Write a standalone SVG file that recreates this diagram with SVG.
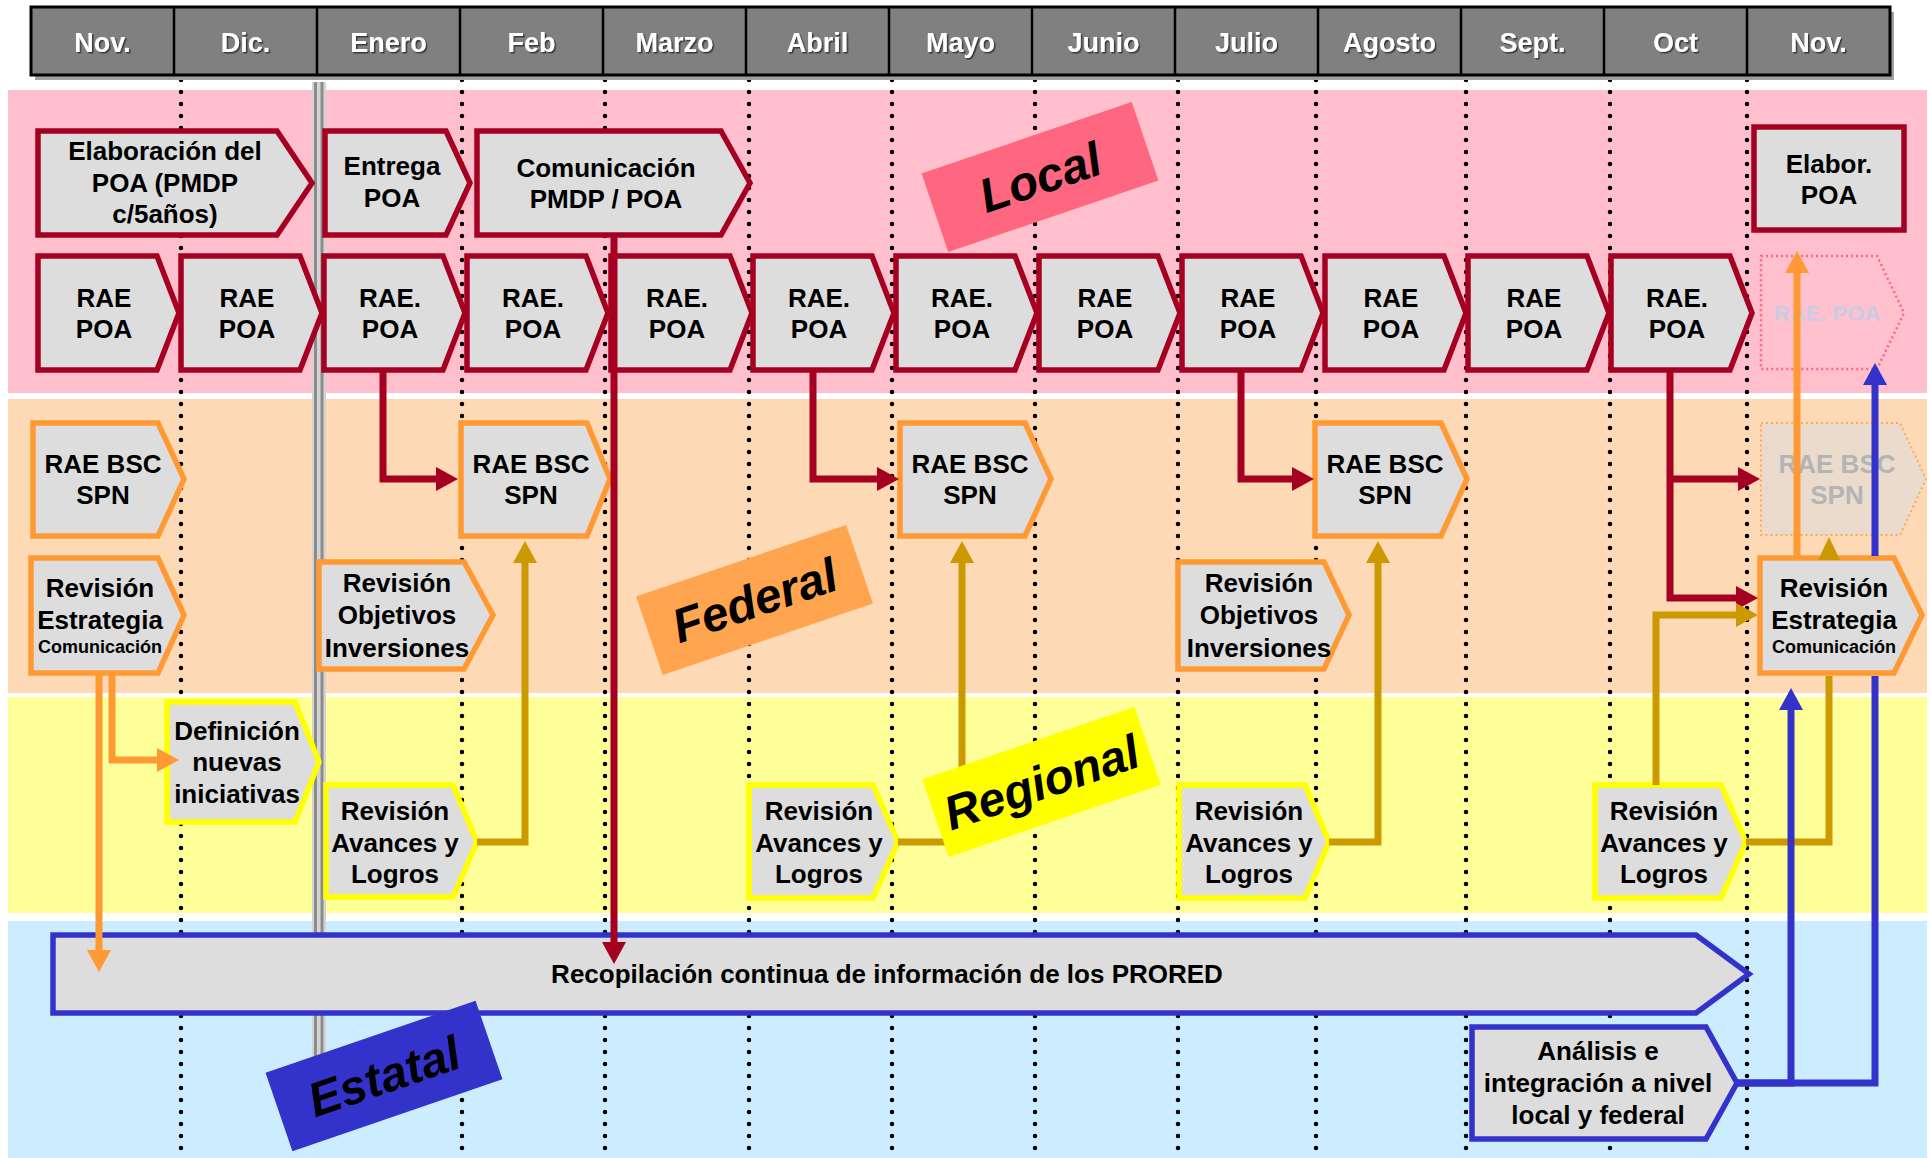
<svg xmlns="http://www.w3.org/2000/svg" width="1931" height="1158" viewBox="0 0 1931 1158">
<style>
  text { font-family: "Liberation Sans", Arial, sans-serif; font-weight: bold; text-anchor: middle; }
  .t { font-size: 26px; fill: #000; }
  .sm { font-size: 18px; }
  .hdr { font-size: 27px; fill: #fff; filter: url(#tshadow); }
  .lbl { font-size: 48px; font-style: italic; fill: #000; }
  .box { fill: #DDDDDD; stroke-width: 5.5; stroke-linejoin: miter; }
  .red { stroke: #A50021; }
  .org { stroke: #FF9933; }
  .yel { stroke: #FFFF00; }
  .blu { stroke: #3333CC; }
  .dots { stroke: #000; stroke-width: 4.5; stroke-linecap: round; stroke-dasharray: 0 12; fill: none; }
  .c { fill: none; stroke-width: 7; stroke-linejoin: miter; }
  .cr { stroke: #A50021; }
  .cg { stroke: #CC9900; }
  .co { stroke: #FF9933; }
  .cb { stroke: #3333CC; }
  .fadedpoa { font-size: 22px; fill: #C8CCE4; }
  .fadedbsc { fill: #B4B4B4; }
</style>
<defs>
  <filter id="tshadow" x="-20%" y="-20%" width="140%" height="140%">
    <feDropShadow dx="1.5" dy="1.5" stdDeviation="0.4" flood-color="#303030" flood-opacity="0.9"/>
  </filter>
  <marker id="aR" viewBox="0 0 22 24" refX="1" refY="12" markerWidth="22" markerHeight="24" markerUnits="userSpaceOnUse" orient="auto"><path d="M0,0 L22,12 L0,24 Z" fill="#A50021"/></marker>
  <marker id="aG" viewBox="0 0 22 24" refX="1" refY="12" markerWidth="22" markerHeight="24" markerUnits="userSpaceOnUse" orient="auto"><path d="M0,0 L22,12 L0,24 Z" fill="#CC9900"/></marker>
  <marker id="aO" viewBox="0 0 22 24" refX="1" refY="12" markerWidth="22" markerHeight="24" markerUnits="userSpaceOnUse" orient="auto"><path d="M0,0 L22,12 L0,24 Z" fill="#FF9933"/></marker>
  <marker id="aB" viewBox="0 0 22 24" refX="1" refY="12" markerWidth="22" markerHeight="24" markerUnits="userSpaceOnUse" orient="auto"><path d="M0,0 L22,12 L0,24 Z" fill="#3333CC"/></marker>
</defs>

<rect width="1931" height="1158" fill="#FFFFFF"/>

<g id="bands">
  <rect x="8" y="90" width="1919" height="303" fill="#FFBFCC"/>
  <rect x="8" y="399" width="1919" height="294" fill="#FDD9B5"/>
  <rect x="8" y="697" width="1919" height="216" fill="#FFFF99"/>
  <rect x="8" y="921" width="1919" height="237" fill="#CCECFF"/>
</g>

<g id="gridlines">
  <path class="dots" d="M181,80 V1158 M462,80 V1158 M605,80 V1158 M749,80 V1158 M892,80 V1158 M1035,80 V1158 M1178,80 V1158 M1316,80 V1158 M1466,80 V1158 M1610,80 V1158 M1747,80 V1158"/>
  <rect x="312" y="82" width="14" height="975" fill="#D4D4D4"/>
  <line x1="315.5" y1="82" x2="315.5" y2="1057" stroke="#8C8C8C" stroke-width="3"/>
  <line x1="322" y1="82" x2="322" y2="1057" stroke="#8C8C8C" stroke-width="3"/>
</g>

<g id="header">
  <rect x="35" y="12" width="1859" height="68" fill="#A0A0A0"/>
  <rect x="31" y="7" width="1859" height="68" fill="#808080" stroke="#000" stroke-width="3"/>
  <path d="M174,7 V75 M317,7 V75 M460,7 V75 M603,7 V75 M746,7 V75 M889,7 V75 M1032,7 V75 M1175,7 V75 M1318,7 V75 M1461,7 V75 M1604,7 V75 M1747,7 V75" stroke="#000" stroke-width="2.5"/>
  <text class="hdr" x="102.5" y="52">Nov.</text>
  <text class="hdr" x="245.5" y="52">Dic.</text>
  <text class="hdr" x="388.5" y="52">Enero</text>
  <text class="hdr" x="531.5" y="52">Feb</text>
  <text class="hdr" x="674.5" y="52">Marzo</text>
  <text class="hdr" x="817.5" y="52">Abril</text>
  <text class="hdr" x="960.5" y="52">Mayo</text>
  <text class="hdr" x="1103.5" y="52">Junio</text>
  <text class="hdr" x="1246.5" y="52">Julio</text>
  <text class="hdr" x="1389.5" y="52">Agosto</text>
  <text class="hdr" x="1532.5" y="52">Sept.</text>
  <text class="hdr" x="1675.5" y="52">Oct</text>
  <text class="hdr" x="1818.5" y="52">Nov.</text>
</g>

<!-- Local level -->
<g id="n-elaboracion">
  <path class="box red" d="M38,131 H277 L312,183 L277,235 H38 Z"/>
  <text class="t" x="165" y="160">Elaboración del</text>
  <text class="t" x="165" y="192">POA (PMDP</text>
  <text class="t" x="165" y="223">c/5años)</text>
</g>
<g id="n-entrega">
  <path class="box red" d="M325,131 H446 L470,183 L446,235 H325 Z"/>
  <text class="t" x="392" y="175">Entrega</text>
  <text class="t" x="392" y="207">POA</text>
</g>
<g id="n-comunicacion">
  <path class="box red" d="M477,131 H721 L750,183 L721,235 H477 Z"/>
  <text class="t" x="606" y="177">Comunicación</text>
  <text class="t" x="606" y="208">PMDP / POA</text>
</g>
<g id="n-elabor-poa">
  <rect class="box red" x="1754" y="127" width="150" height="103"/>
  <text class="t" x="1829" y="173">Elabor.</text>
  <text class="t" x="1829" y="204">POA</text>
</g>

<g id="n-rae-nov">
  <path class="box red" d="M38,256 H157 L179,313 L157,370 H38 Z"/>
  <text class="t" x="104" y="307">RAE</text><text class="t" x="104" y="338">POA</text>
</g>
<g id="n-rae-dic">
  <path class="box red" d="M181,256 H300 L322,313 L300,370 H181 Z"/>
  <text class="t" x="247" y="307">RAE</text><text class="t" x="247" y="338">POA</text>
</g>
<g id="n-rae-ene">
  <path class="box red" d="M324,256 H443 L465,313 L443,370 H324 Z"/>
  <text class="t" x="390" y="307">RAE.</text><text class="t" x="390" y="338">POA</text>
</g>
<g id="n-rae-feb">
  <path class="box red" d="M467,256 H586 L608,313 L586,370 H467 Z"/>
  <text class="t" x="533" y="307">RAE.</text><text class="t" x="533" y="338">POA</text>
</g>
<g id="n-rae-mar">
  <path class="box red" d="M611,256 H730 L752,313 L730,370 H611 Z"/>
  <text class="t" x="677" y="307">RAE.</text><text class="t" x="677" y="338">POA</text>
</g>
<g id="n-rae-abr">
  <path class="box red" d="M753,256 H872 L894,313 L872,370 H753 Z"/>
  <text class="t" x="819" y="307">RAE.</text><text class="t" x="819" y="338">POA</text>
</g>
<g id="n-rae-may">
  <path class="box red" d="M896,256 H1015 L1037,313 L1015,370 H896 Z"/>
  <text class="t" x="962" y="307">RAE.</text><text class="t" x="962" y="338">POA</text>
</g>
<g id="n-rae-jun">
  <path class="box red" d="M1039,256 H1158 L1180,313 L1158,370 H1039 Z"/>
  <text class="t" x="1105" y="307">RAE</text><text class="t" x="1105" y="338">POA</text>
</g>
<g id="n-rae-jul">
  <path class="box red" d="M1182,256 H1301 L1323,313 L1301,370 H1182 Z"/>
  <text class="t" x="1248" y="307">RAE</text><text class="t" x="1248" y="338">POA</text>
</g>
<g id="n-rae-ago">
  <path class="box red" d="M1325,256 H1444 L1466,313 L1444,370 H1325 Z"/>
  <text class="t" x="1391" y="307">RAE</text><text class="t" x="1391" y="338">POA</text>
</g>
<g id="n-rae-sep">
  <path class="box red" d="M1468,256 H1587 L1609,313 L1587,370 H1468 Z"/>
  <text class="t" x="1534" y="307">RAE</text><text class="t" x="1534" y="338">POA</text>
</g>
<g id="n-rae-oct">
  <path class="box red" d="M1611,256 H1730 L1752,313 L1730,370 H1611 Z"/>
  <text class="t" x="1677" y="307">RAE.</text><text class="t" x="1677" y="338">POA</text>
</g>
<g id="n-rae-nov2">
  <path d="M1761,256 H1877 L1904,313 L1877,369 H1761 Z" fill="#FFC4D0" fill-opacity="0.5" stroke="#FF6680" stroke-width="2.5" stroke-dasharray="2 3"/>
  <text class="fadedpoa" x="1827" y="321">RAE. POA</text>
</g>

<!-- Federal level -->
<g id="n-bsc-nov">
  <path class="box org" d="M33,423 H158 L184,479 L158,536 H33 Z"/>
  <text class="t" x="103" y="473">RAE BSC</text><text class="t" x="103" y="504">SPN</text>
</g>
<g id="n-bsc-feb">
  <path class="box org" d="M461,423 H587 L610,479 L587,536 H461 Z"/>
  <text class="t" x="531" y="473">RAE BSC</text><text class="t" x="531" y="504">SPN</text>
</g>
<g id="n-bsc-may">
  <path class="box org" d="M900,423 H1025 L1051,479 L1025,536 H900 Z"/>
  <text class="t" x="970" y="473">RAE BSC</text><text class="t" x="970" y="504">SPN</text>
</g>
<g id="n-bsc-ago">
  <path class="box org" d="M1315,423 H1441 L1467,479 L1441,536 H1315 Z"/>
  <text class="t" x="1385" y="473">RAE BSC</text><text class="t" x="1385" y="504">SPN</text>
</g>
<g id="n-bsc-nov2">
  <path d="M1761,423 H1900 L1926,479 L1900,535 H1761 Z" fill="#E2DCD6" fill-opacity="0.7" stroke="#FFAA55" stroke-width="2" stroke-dasharray="2 3"/>
  <text class="t fadedbsc" x="1837" y="473">RAE BSC</text><text class="t fadedbsc" x="1837" y="504">SPN</text>
</g>
<g id="n-estrategia-nov">
  <path class="box org" d="M31,558 H158 L184,615 L158,673 H31 Z"/>
  <text class="t" x="100" y="597">Revisión</text>
  <text class="t" x="100" y="629">Estrategia</text>
  <text class="t sm" x="100" y="653">Comunicación</text>
</g>
<g id="n-objetivos-ene">
  <path class="box org" d="M319,562 H464 L493,615 L464,669 H319 Z"/>
  <text class="t" x="397" y="592">Revisión</text>
  <text class="t" x="397" y="624">Objetivos</text>
  <text class="t" x="397" y="657">Inversiones</text>
</g>
<g id="n-objetivos-jul">
  <path class="box org" d="M1178,562 H1324 L1349,615 L1324,669 H1178 Z"/>
  <text class="t" x="1259" y="592">Revisión</text>
  <text class="t" x="1259" y="624">Objetivos</text>
  <text class="t" x="1259" y="657">Inversiones</text>
</g>
<g id="n-estrategia-nov2">
  <path class="box org" d="M1760,558 H1894 L1922,615 L1894,673 H1760 Z"/>
  <text class="t" x="1834" y="597">Revisión</text>
  <text class="t" x="1834" y="629">Estrategia</text>
  <text class="t sm" x="1834" y="653">Comunicación</text>
</g>

<!-- Regional level -->
<g id="n-definicion">
  <path class="box yel" d="M167,702 H295 L319,762 L295,822 H167 Z"/>
  <text class="t" x="237" y="740">Definición</text>
  <text class="t" x="237" y="771">nuevas</text>
  <text class="t" x="237" y="803">iniciativas</text>
</g>
<g id="n-avances-ene">
  <path class="box yel" d="M326,785 H453 L477,842 L453,897 H326 Z"/>
  <text class="t" x="395" y="820">Revisión</text>
  <text class="t" x="395" y="852">Avances y</text>
  <text class="t" x="395" y="883">Logros</text>
</g>
<g id="n-avances-abr">
  <path class="box yel" d="M749,785 H873 L898,842 L873,898 H749 Z"/>
  <text class="t" x="819" y="820">Revisión</text>
  <text class="t" x="819" y="852">Avances y</text>
  <text class="t" x="819" y="883">Logros</text>
</g>
<g id="n-avances-jul">
  <path class="box yel" d="M1179,785 H1305 L1329,842 L1305,898 H1179 Z"/>
  <text class="t" x="1249" y="820">Revisión</text>
  <text class="t" x="1249" y="852">Avances y</text>
  <text class="t" x="1249" y="883">Logros</text>
</g>
<g id="n-avances-oct">
  <path class="box yel" d="M1595,785 H1721 L1746,842 L1721,898 H1595 Z"/>
  <text class="t" x="1664" y="820">Revisión</text>
  <text class="t" x="1664" y="852">Avances y</text>
  <text class="t" x="1664" y="883">Logros</text>
</g>

<!-- Estatal level -->
<g id="n-recopilacion">
  <path class="box blu" d="M53,935 H1696 L1749,974 L1696,1013 H53 Z"/>
  <text class="t" x="887" y="983">Recopilación continua de información de los PRORED</text>
</g>
<g id="n-analisis">
  <path class="box blu" d="M1472,1027 H1706 L1737,1083 L1706,1139 H1472 Z"/>
  <text class="t" x="1598" y="1060">Análisis e</text>
  <text class="t" x="1598" y="1092">integración a nivel</text>
  <text class="t" x="1598" y="1124">local y federal</text>
</g>

<g id="connectors">
  <path class="c cr" d="M383,370 V479 H437" marker-end="url(#aR)"/>
  <path class="c cr" d="M614,235 V943" marker-end="url(#aR)"/>
  <path class="c cr" d="M813,370 V479 H878" marker-end="url(#aR)"/>
  <path class="c cr" d="M1241,370 V479 H1293" marker-end="url(#aR)"/>
  <path class="c cr" d="M1670,370 V598 H1737" marker-end="url(#aR)"/>
  <path class="c cr" d="M1670,479 H1739" marker-end="url(#aR)"/>

  <path class="c cg" d="M477,842 H525 V562" marker-end="url(#aG)"/>
  <path class="c cg" d="M898,842 H962 V562" marker-end="url(#aG)"/>
  <path class="c cg" d="M1329,842 H1378 V562" marker-end="url(#aG)"/>
  <path class="c cg" d="M1656,785 V615 H1737" marker-end="url(#aG)"/>
  <path class="c cg" d="M1746,842 H1829 V676"/>
  <path d="M1818,560 L1829,537 L1840,560 Z" fill="#CC9900"/>

  <path class="c co" d="M99,673 V951" marker-end="url(#aO)"/>
  <path class="c co" d="M112,673 V760 H158" marker-end="url(#aO)"/>
  <path class="c co" d="M1797,556 V272" marker-end="url(#aO)"/>

  <path class="c cb" d="M1737,1083 H1791 V709" marker-end="url(#aB)"/>
  <path class="c cb" d="M1737,1083 H1875 V676"/>
  <path class="c cb" d="M1875,556 V384" marker-end="url(#aB)"/>
</g>

<g id="labels">
  <g id="lbl-local" transform="translate(1040,177) rotate(-18.8)">
    <rect x="-111" y="-41.5" width="222" height="83" fill="#FF6680"/>
    <text class="lbl" x="0" y="17">Local</text>
  </g>
  <g id="lbl-federal" transform="translate(754.5,600) rotate(-18.8)">
    <rect x="-111" y="-41.5" width="222" height="83" fill="#FFA54F"/>
    <text class="lbl" x="0" y="17">Federal</text>
  </g>
  <g id="lbl-regional" transform="translate(1041.5,782) rotate(-18.8)">
    <rect x="-112" y="-41" width="224" height="82" fill="#FFFF00"/>
    <text class="lbl" x="0" y="17">Regional</text>
  </g>
  <g id="lbl-estatal" transform="translate(384,1076) rotate(-18.9)">
    <rect x="-111" y="-41.5" width="222" height="83" fill="#3333CC"/>
    <text class="lbl" x="0" y="17">Estatal</text>
  </g>
</g>
</svg>
